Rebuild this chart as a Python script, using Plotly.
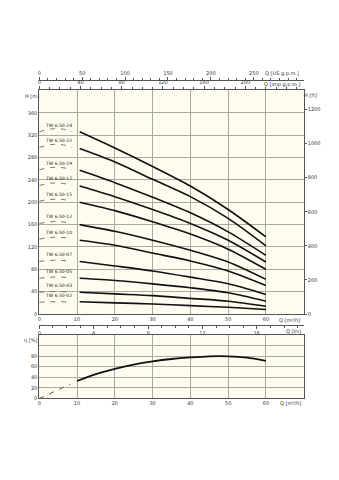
import plotly.graph_objects as go

W, H = 339, 480

# ---------------- data ----------------
q_curve = [10.7, 20, 30, 40, 50, 60]          # m3/h
h_tw24 = [326, 297, 264, 229, 187, 138]
h_tw22 = [296, 272, 241, 210, 171, 122]
h_tw19 = [257, 235, 209, 181, 147, 105]
h_tw17 = [229, 210, 187, 162, 132, 93]
h_tw15 = [200, 185, 165, 143, 116, 80]
h_tw12 = [160, 148, 132, 114, 93, 62]
h_tw10 = [132, 123, 109, 95, 77, 51]
h_tw07 = [94, 86, 77, 66, 54, 35]
h_tw05 = [64, 60, 54, 47, 38, 23]
h_tw03 = [39, 36, 33, 28, 23, 14]
h_tw02 = [22, 20, 18, 15, 12, 8]

q_dash = [0, 3, 6, 8.7]
d_tw24 = [326, 331, 331, 326]
d_tw22 = [298, 303, 303, 298]
d_tw19 = [258, 262, 262, 258]
d_tw17 = [230, 234, 234, 230]
d_tw15 = [202, 205, 205, 202]
d_tw12 = [162, 165, 165, 162]
d_tw10 = [134, 137, 137, 134]
d_tw07 = [94, 96, 96, 94]
d_tw05 = [64, 66, 66, 64]
d_tw03 = [39, 40, 40, 39]
d_tw02 = [21, 22, 22, 21]

models = ["TW 6.50-24", "TW 6.50-22", "TW 6.50-19", "TW 6.50-17", "TW 6.50-15",
          "TW 6.50-12", "TW 6.50-10", "TW 6.50-07", "TW 6.50-05", "TW 6.50-03",
          "TW 6.50-02"]
solid = [h_tw24, h_tw22, h_tw19, h_tw17, h_tw15, h_tw12, h_tw10, h_tw07, h_tw05, h_tw03, h_tw02]
dashed = [d_tw24, d_tw22, d_tw19, d_tw17, d_tw15, d_tw12, d_tw10, d_tw07, d_tw05, d_tw03, d_tw02]

q_eff = [10, 15, 20, 25, 30, 35, 40, 45, 50, 55, 60]
eta = [33, 46, 56, 64, 70, 74.5, 77.5, 79.5, 79.5, 77, 71]
q_eff_dash = [0, 8.2]
eta_dash = [0, 27]

q_ticks = [0, 10, 20, 30, 40, 50, 60]
h_ticks = [0, 40, 80, 120, 160, 200, 240, 280, 320, 360]
ft_ticks = [0, 200, 400, 600, 800, 1000, 1200]
usgpm_ticks = [0, 50, 100, 150, 200, 250]
impgpm_ticks = [0, 40, 80, 120, 160, 200]
ls_ticks = [0, 4, 8, 12, 16]
eta_ticks = [0, 20, 40, 60, 80]

# ---------------- geometry ----------------
def px(x):
    return x / W

def py(y):
    return 1 - y / H

Q_MAX = 70
X_DOM = [px(37.5), px(303.5)]
Y_MAIN = [py(316), py(91)]
Y_EFF = [py(401), py(337)]

FONT = "DejaVu Sans"
TF = dict(family=FONT, size=5, color="#333333")
GRID = "#aaaaa0"
LINE = "#555555"
BG = "#fdfcef"

fig = go.Figure()

for name, hs, ds in zip(models, solid, dashed):
    fig.add_trace(go.Scatter(x=q_curve, y=hs, mode="lines",
                             line=dict(color="#111111", width=1.6, shape="spline", smoothing=0.8),
                             xaxis="x", yaxis="y", showlegend=False, hoverinfo="skip"))
    fig.add_trace(go.Scatter(x=q_dash, y=ds, mode="lines",
                             line=dict(color="#666666", width=0.9, dash="5px,6px", shape="spline"),
                             xaxis="x", yaxis="y", showlegend=False, hoverinfo="skip"))
    fig.add_annotation(x=1, y=ds[0], xref="x", yref="y", text=name, showarrow=False,
                       xanchor="left", yanchor="bottom", yshift=2,
                       font=dict(family=FONT, size=4.5, color="#222222"))

fig.add_trace(go.Scatter(x=q_eff, y=eta, mode="lines",
                         line=dict(color="#111111", width=1.8, shape="spline", smoothing=0.8),
                         xaxis="x5", yaxis="y3", showlegend=False, hoverinfo="skip"))
fig.add_trace(go.Scatter(x=q_eff_dash, y=eta_dash, mode="lines",
                         line=dict(color="#444444", width=0.9, dash="5px,6px"),
                         xaxis="x5", yaxis="y3", showlegend=False, hoverinfo="skip"))

# invisible carriers so the secondary axes are drawn
for xa, ya in [("x2", "y"), ("x3", "y"), ("x4", "y"), ("x", "y2")]:
    fig.add_trace(go.Scatter(x=[0], y=[0], mode="markers", marker=dict(opacity=0, size=1),
                             xaxis=xa, yaxis=ya, showlegend=False, hoverinfo="skip"))

fig.update_layout(
    width=W, height=H, margin=dict(l=0, r=0, t=0, b=0),
    paper_bgcolor="white", plot_bgcolor=BG, showlegend=False,
    xaxis=dict(domain=X_DOM, range=[0, Q_MAX], tickvals=q_ticks, showgrid=True,
               gridcolor=GRID, gridwidth=1.2, showline=True, linecolor=LINE, linewidth=1,
               mirror=False, ticks="", tickfont=TF, anchor="y", zeroline=False, fixedrange=True),
    yaxis=dict(domain=Y_MAIN, range=[0, 400], tickvals=h_ticks, showgrid=True,
               gridcolor=GRID, gridwidth=1.2, showline=True, linecolor=LINE, linewidth=1,
               ticks="", tickfont=TF, anchor="x", zeroline=False),
    yaxis2=dict(overlaying="y", side="right", anchor="x", range=[0, 400 * 3.28084],
                tickvals=ft_ticks, showgrid=False, showline=True, linecolor=LINE, linewidth=1,
                ticks="outside", ticklen=2, tickcolor=LINE, tickfont=TF, zeroline=False),
    xaxis2=dict(overlaying="x", side="top", anchor="free", position=py(80),
                range=[0, Q_MAX * 4.402868], tickvals=usgpm_ticks, showgrid=False,
                showline=True, linecolor=LINE, linewidth=1, ticks="outside", ticklen=3,
                tickcolor=LINE, minor=dict(dtick=10, ticks="outside", ticklen=2, tickcolor=LINE),
                tickfont=TF, zeroline=False),
    xaxis3=dict(overlaying="x", side="top", anchor="y", range=[0, Q_MAX * 3.666154],
                tickvals=impgpm_ticks, showgrid=False, showline=True, linecolor=LINE,
                linewidth=1, ticks="outside", ticklen=3, tickcolor=LINE,
                minor=dict(dtick=10, ticks="outside", ticklen=2, tickcolor=LINE),
                tickfont=TF, zeroline=False),
    xaxis4=dict(overlaying="x", side="bottom", anchor="free", position=py(327),
                range=[0, Q_MAX / 3.6], tickvals=ls_ticks, showgrid=False, showline=True,
                linecolor=LINE, linewidth=1, ticks="outside", ticklen=3, tickcolor=LINE,
                minor=dict(dtick=1, ticks="outside", ticklen=2, tickcolor=LINE),
                tickfont=TF, zeroline=False),
    xaxis5=dict(domain=X_DOM, anchor="y3", range=[0, Q_MAX], tickvals=q_ticks, showgrid=True,
                gridcolor=GRID, gridwidth=1.2, showline=True, linecolor=LINE, linewidth=1,
                mirror=True, ticks="", tickfont=TF, zeroline=False),
    yaxis3=dict(domain=Y_EFF, anchor="x5", range=[0, 120], tickvals=eta_ticks + [100],
                ticktext=[str(v) for v in eta_ticks] + [""], showgrid=True, gridcolor=GRID,
                gridwidth=1.2, showline=True, linecolor=LINE, linewidth=1, mirror=True,
                ticks="", tickfont=TF, zeroline=False),
)

titles = [
    ("Q [US g.p.m.]", 282, 74),
    ("Q [imp g.p.m.]", 282, 85.5),
    ("H [m]", 30, 97),
    ("H [ft]", 310, 96),
    ("Q [m³/h]", 289, 322),
    ("Q [l/s]", 293, 333),
    ("η [%]", 29, 343),
    ("Q [m³/h]", 290, 406),
]
for txt, x, y in titles:
    fig.add_annotation(x=px(x), y=py(y), xref="paper", yref="paper", text=txt,
                       showarrow=False, xanchor="center", yanchor="middle",
                       font=TF)

fig.write_html("out.html")
